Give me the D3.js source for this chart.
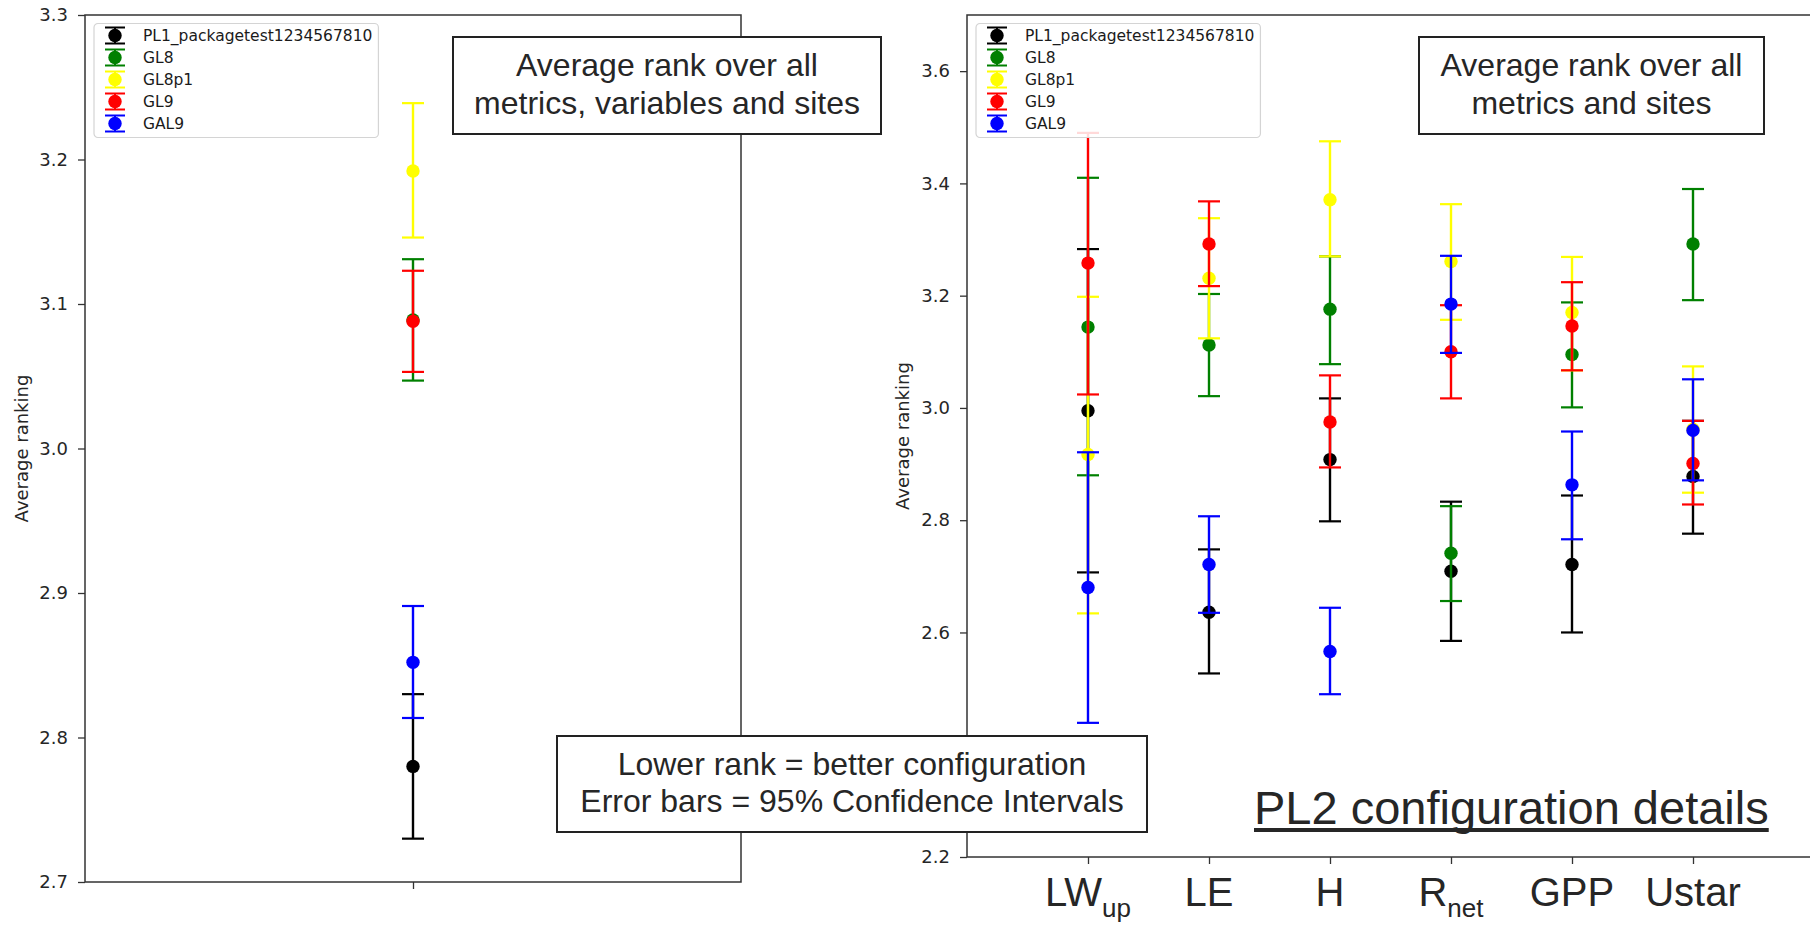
<!DOCTYPE html>
<html>
<head>
<meta charset="utf-8">
<script src="https://cdn.jsdelivr.net/npm/d3@7/dist/d3.min.js"></script>
<style>
body { margin: 0; background: #fff; }
svg { display: block; }
</style>
</head>
<body>
<div id="chart"></div>
<script>
// configurations, in the order they were plotted
var series = ["PL1_packagetest1234567810", "GL8", "GL8p1", "GL9", "GAL9"];
var colors = ["black", "green", "yellow", "red", "blue"];

// left panel: average rank over all metrics, variables and sites
var overallMean = [2.780, 3.089, 3.192, 3.088, 2.852];
var overallLo   = [2.730, 3.047, 3.146, 3.053, 2.8135];
var overallHi   = [2.830, 3.131, 3.239, 3.123, 2.891];

// right panel: per variable
var variables = ["LW", "LE", "H", "R", "GPP", "Ustar"];
var variableSubs = ["up", "", "", "net", "", ""];

var pl1Mean = [2.995, 2.636, 2.908, 2.709, 2.721, 2.878];
var pl1Lo   = [2.707, 2.527, 2.798, 2.585, 2.600, 2.776];
var pl1Hi   = [3.283, 2.748, 3.017, 2.833, 2.844, 2.977];

var gl8Mean = [3.144, 3.112, 3.176, 2.741, 3.095, 3.292];
var gl8Lo   = [2.880, 3.021, 3.078, 2.656, 3.001, 3.192];
var gl8Hi   = [3.410, 3.203, 3.270, 2.825, 3.188, 3.390];

var gl8p1Mean = [2.917, 3.231, 3.371, 3.261, 3.170, 2.962];
var gl8p1Lo   = [2.634, 3.124, 3.270, 3.157, 3.067, 2.849];
var gl8p1Hi   = [3.198, 3.338, 3.475, 3.363, 3.269, 3.074];

var gl9Mean = [3.258, 3.292, 2.975, 3.100, 3.146, 2.901];
var gl9Lo   = [3.024, 3.217, 2.894, 3.017, 3.067, 2.828];
var gl9Hi   = [3.490, 3.368, 3.058, 3.183, 3.224, 2.977];

var gal9Mean = [2.680, 2.721, 2.566, 3.185, 2.863, 2.960];
var gal9Lo   = [2.439, 2.635, 2.490, 3.098, 2.766, 2.871];
var gal9Hi   = [2.921, 2.807, 2.644, 3.271, 2.958, 3.051];

var leftTicks = [2.7, 2.8, 2.9, 3.0, 3.1, 3.2, 3.3];
// 2.4 sits under the note box in the original, so it is left out
var rightTicks = [2.2, 2.6, 2.8, 3.0, 3.2, 3.4, 3.6];

var W = 1810, H = 925;
var tickFont = "'DejaVu Sans', sans-serif";
var boxFont = "'Liberation Sans', Arial, sans-serif";
var ink = "#262626";

var svg = d3.select("#chart").append("svg")
	.attr("width", W)
	.attr("height", H);


function drawerrorbars(g, rows, x, y, color) {
	var cap = 11;
	var eb = g.selectAll(null)
		.data(rows)
		.enter()
		.append("g");
	eb.append("line")
		.attr("x1", function(d) { return x(d.pos) })
		.attr("x2", function(d) { return x(d.pos) })
		.attr("y1", function(d) { return y(d.lo) })
		.attr("y2", function(d) { return y(d.hi) })
		.attr("stroke", color)
		.attr("stroke-width", 2.4);
	["lo", "hi"].forEach(function(k) {
		eb.append("line")
			.attr("x1", function(d) { return x(d.pos) - cap })
			.attr("x2", function(d) { return x(d.pos) + cap })
			.attr("y1", function(d) { return y(d[k]) })
			.attr("y2", function(d) { return y(d[k]) })
			.attr("stroke", color)
			.attr("stroke-width", 2.2);
	});
	eb.append("circle")
		.attr("cx", function(d) { return x(d.pos) })
		.attr("cy", function(d) { return y(d.mean) })
		.attr("r", 6.7)
		.attr("fill", color);
};


function drawlegend(svg, left, top) {
	var g = svg.append("g").attr("transform", "translate(" + left + "," + top + ")");
	var box = g.append("rect")
		.attr("x", 0).attr("y", 0)
		.attr("height", 114)
		.attr("rx", 4)
		.attr("fill", "white")
		.attr("fill-opacity", 0.85)
		.attr("stroke", "#d4d4d4")
		.attr("stroke-width", 1.2);
	var maxw = 0;
	series.forEach(function(name, i) {
		var cy = 12 + i * 22;
		var c = colors[i];
		g.append("line").attr("x1", 21).attr("x2", 21).attr("y1", cy - 8).attr("y2", cy + 8)
			.attr("stroke", c).attr("stroke-width", 2);
		[-8, 8].forEach(function(o) {
			g.append("line").attr("x1", 11).attr("x2", 31).attr("y1", cy + o).attr("y2", cy + o)
				.attr("stroke", c).attr("stroke-width", 2);
		});
		g.append("circle").attr("cx", 21).attr("cy", cy).attr("r", 6.7).attr("fill", c);
		var t = g.append("text")
			.attr("x", 49).attr("y", cy)
			.attr("dy", "0.36em")
			.attr("font-family", tickFont)
			.attr("font-size", 15.5)
			.attr("fill", "#1a1a1a")
			.text(name);
		maxw = Math.max(maxw, t.node().getComputedTextLength());
	});
	box.attr("width", 49 + maxw + 6);
};


function drawpanel(p) {
	var x = d3.scaleLinear().domain(p.xdomain).range([p.left, p.right]);
	var y = d3.scaleLinear().domain(p.ydomain).range([p.bottom, p.top]);
	var g = svg.append("g");

	var yaxis = g.append("g")
		.attr("transform", "translate(" + p.left + ",0)")
		.call(d3.axisLeft(y).tickValues(p.yticks).tickFormat(d3.format(".1f")).tickSize(7).tickPadding(10));
	var xaxis = g.append("g")
		.attr("transform", "translate(0," + p.bottom + ")")
		.call(d3.axisBottom(x).tickValues(p.xticks).tickFormat("").tickSize(7));
	[yaxis, xaxis].forEach(function(a) {
		a.select(".domain").remove();
		a.selectAll(".tick line").attr("stroke", "#333").attr("stroke-width", 1.3);
		a.selectAll(".tick text")
			.attr("fill", ink)
			.attr("font-family", tickFont)
			.attr("font-size", 18);
	});

	g.append("rect")
		.attr("x", p.left).attr("y", p.top)
		.attr("width", p.right - p.left).attr("height", p.bottom - p.top)
		.attr("fill", "none")
		.attr("stroke", "#333")
		.attr("stroke-width", 1.5);

	g.append("text")
		.attr("transform", "translate(" + p.ylabelx + "," + (p.top + p.bottom) / 2 + ") rotate(-90)")
		.attr("text-anchor", "middle")
		.attr("font-family", tickFont)
		.attr("font-size", 18)
		.attr("fill", ink)
		.text("Average ranking");

	p.table.forEach(function(s) {
		var rows = s.mean.map(function(m, i) {
			return {pos: p.xticks[i], mean: m, lo: s.lo[i], hi: s.hi[i]};
		});
		drawerrorbars(g, rows, x, y, s.color);
	});

	drawlegend(svg, p.left + 9, p.top + 8.5);
	return x;
};


function textbox(x0, y0, x1, y1, lines, baselines, size) {
	svg.append("rect")
		.attr("x", x0).attr("y", y0)
		.attr("width", x1 - x0).attr("height", y1 - y0)
		.attr("fill", "white")
		.attr("stroke", "#222")
		.attr("stroke-width", 2);
	lines.forEach(function(l, i) {
		svg.append("text")
			.attr("x", (x0 + x1) / 2)
			.attr("y", baselines[i])
			.attr("text-anchor", "middle")
			.attr("font-family", boxFont)
			.attr("font-size", size)
			.attr("fill", ink)
			.text(l);
	});
};


function main() {
	var overallTable = series.map(function(name, i) {
		return {name: name, color: colors[i], mean: [overallMean[i]], lo: [overallLo[i]], hi: [overallHi[i]]};
	});
	var perVarMeans = [pl1Mean, gl8Mean, gl8p1Mean, gl9Mean, gal9Mean];
	var perVarLos = [pl1Lo, gl8Lo, gl8p1Lo, gl9Lo, gal9Lo];
	var perVarHis = [pl1Hi, gl8Hi, gl8p1Hi, gl9Hi, gal9Hi];
	var varTable = series.map(function(name, i) {
		return {name: name, color: colors[i], mean: perVarMeans[i], lo: perVarLos[i], hi: perVarHis[i]};
	});

	drawpanel({left: 85, right: 741, top: 15, bottom: 882,
		xdomain: [0, 2], xticks: [1],
		ydomain: [2.7, 3.3], yticks: leftTicks,
		ylabelx: 28, table: overallTable});

	var xr = drawpanel({left: 967, right: 1814, top: 15, bottom: 857,
		xdomain: [0, 7], xticks: variables.map(function(v, i) { return i + 1 }),
		ydomain: [2.2, 3.7], yticks: rightTicks,
		ylabelx: 909, table: varTable});

	// variable names under the right panel
	variables.forEach(function(v, i) {
		var t = svg.append("text")
			.attr("x", xr(i + 1))
			.attr("y", 906)
			.attr("text-anchor", "middle")
			.attr("font-family", boxFont)
			.attr("font-size", 40)
			.attr("fill", ink);
		t.append("tspan").text(v);
		if (variableSubs[i]) {
			t.append("tspan").attr("dy", 11).attr("font-size", 26).text(variableSubs[i]);
		}
	});

	textbox(453, 37, 881, 134, ["Average rank over all", "metrics, variables and sites"], [76, 114], 32);
	textbox(1419, 37, 1764, 134, ["Average rank over all", "metrics and sites"], [76, 114], 32);
	textbox(557, 736, 1147, 832, ["Lower rank = better configuration", "Error bars = 95% Confidence Intervals"], [775, 812], 32);

	var title = svg.append("text")
		.attr("x", 1254)
		.attr("y", 824)
		.attr("font-family", boxFont)
		.attr("font-size", 47)
		.attr("fill", ink)
		.text("PL2 configuration details");
	var tw = title.node().getComputedTextLength();
	svg.append("rect")
		.attr("x", 1254).attr("y", 828)
		.attr("width", tw).attr("height", 4)
		.attr("fill", ink);
};

main()
</script>
</body>
</html>
